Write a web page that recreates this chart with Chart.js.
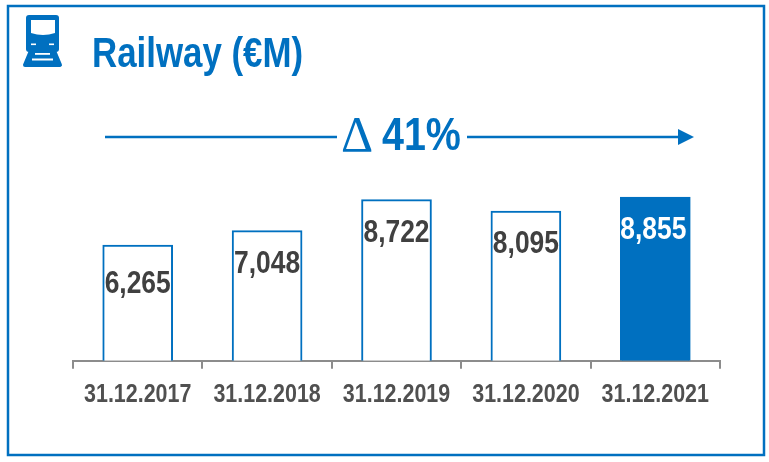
<!DOCTYPE html>
<html><head><meta charset="utf-8">
<style>html,body{margin:0;padding:0;background:#fff}canvas{display:block}</style>
<script src="https://cdn.jsdelivr.net/npm/chart.js@4"></script></head>
<body><canvas id="c" width="769" height="462"></canvas>
<script>
const categories = ["31.12.2017","31.12.2018","31.12.2019","31.12.2020","31.12.2021"];
const railwayValues = [6265,7048,8722,8095,8855];
const valueLabels = ["6,265","7,048","8,722","8,095","8,855"];
const titleText = "Railway (€M)";
const growthText = "41%";
const BLUE = "#0070C0";
const FONT = '"Liberation Sans",Arial,sans-serif';
const NARROW_X = 0.825;
const labelDrop = [39,34,34,33,33];
const labelShift = [0,0,0,0,-2];

function narrowText(c,text,x,y,k){
  c.save(); c.translate(x,y); c.scale(k,1); c.fillText(text,0,0); c.restore();
}

const decor = {
  id:"decor",
  afterLayout(ch){
    const s=ch.scales.x;
    if(s._narrowed) return;
    s._narrowed=true;
    const orig=s.drawLabels.bind(s);
    s._computeLabelArea=()=>undefined;
    s.drawLabels=function(area){
      const items=s.getLabelItems(area);
      items.forEach(it=>{
        if(!it._nx){ const t=it.options.translation; it.options.translation=[t[0]/NARROW_X,t[1]]; it._nx=true; }
      });
      const c=s.ctx; c.save(); c.scale(NARROW_X,1); orig(area); c.restore();
    };
  },
  beforeDraw(ch){
    const c=ch.ctx; c.save();
    c.strokeStyle=BLUE; c.lineWidth=2.5; c.strokeRect(8,6,756,449);
    // train icon
    c.fillStyle=BLUE;
    c.beginPath(); c.roundRect(26,15,33,37,3); c.fill();
    c.fillStyle="#fff";
    c.beginPath(); c.moveTo(31,20); c.lineTo(55,20); c.lineTo(55,33); c.quadraticCurveTo(43,37,31,33); c.closePath(); c.fill();
    c.fillRect(31,43.5,5,1.6); c.fillRect(49,43.5,5,1.6);
    c.strokeStyle=BLUE; c.fillStyle=BLUE; c.lineWidth=4; c.lineJoin="round";
    c.beginPath(); c.moveTo(30,53); c.lineTo(55,53); c.lineTo(60,65); c.lineTo(25,65); c.closePath(); c.stroke(); c.fill();
    c.fillStyle="#fff"; c.fillRect(35,53,15,1.8); c.fillRect(32,58.5,21,2);
    // arrow
    c.strokeStyle=BLUE; c.lineWidth=2.4;
    c.beginPath(); c.moveTo(105,137); c.lineTo(337,137); c.moveTo(467,137); c.lineTo(682,137); c.stroke();
    c.fillStyle=BLUE; c.beginPath(); c.moveTo(678,129); c.lineTo(694,137); c.lineTo(678,145); c.closePath(); c.fill();
    // texts
    c.textBaseline="alphabetic"; c.textAlign="left";
    c.font='bold 42px '+FONT; narrowText(c,titleText,92,67,0.83);
    c.font='50px "Liberation Serif",serif'; c.fillText("Δ",341,151);
    c.font='bold 46px '+FONT; narrowText(c,growthText,382,150,0.857);
    c.restore();
  },
  afterDatasetsDraw(ch){
    const c=ch.ctx, m=ch.getDatasetMeta(0); c.save();
    c.textAlign="center"; c.textBaseline="middle";
    c.font='bold 32px '+FONT;
    m.data.forEach((b,i)=>{
      c.fillStyle = i===4 ? "#fff" : "#404040";
      narrowText(c,valueLabels[i], b.x+labelShift[i], b.y+labelDrop[i], NARROW_X);
    });
    c.restore();
  }
};

new Chart(document.getElementById("c"),{
  type:"bar",
  data:{labels:categories,datasets:[{
    data:railwayValues,
    backgroundColor:["#fff","#fff","#fff","#fff",BLUE],
    borderColor:BLUE,borderWidth:2,
    barThickness:70
  }]},
  options:{
    responsive:false,animation:false,
    layout:{padding:{left:73,right:49,top:176,bottom:42}},
    plugins:{legend:{display:false},tooltip:{enabled:false}},
    scales:{
      y:{display:false,min:0,max:10000},
      x:{
        border:{color:"#8c8c8c",width:2},
        grid:{drawOnChartArea:false,color:"#8c8c8c",lineWidth:2,tickLength:8,offset:true},
        ticks:{color:"#505050",font:{family:FONT,weight:"bold",size:26},padding:10,maxRotation:0,autoSkip:false}
      }
    }
  },
  plugins:[decor]
});
</script></body></html>
